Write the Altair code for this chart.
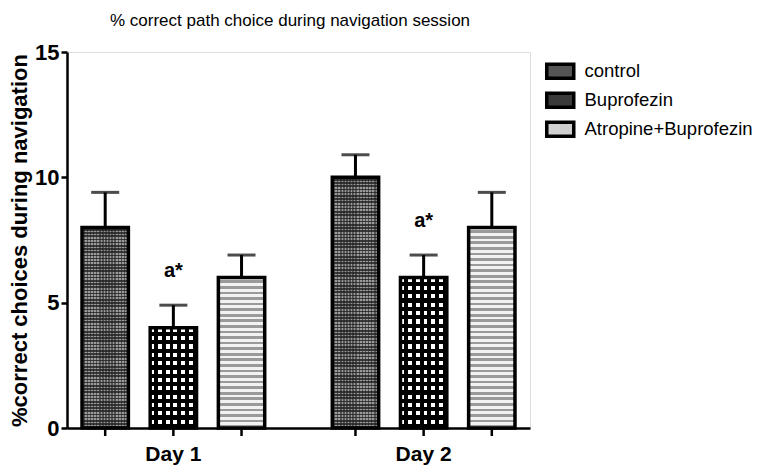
import altair as alt
import pandas as pd

days = ["Day 1", "Day 2"]
groups = ["control", "Buprofezin", "Atropine+Buprofezin"]
mean_day1 = [8, 4, 6]
err_day1 = [1.4, 0.9, 0.9]
mean_day2 = [10, 6, 8]
err_day2 = [0.9, 0.9, 1.4]
annot_day1 = ["", "a*", ""]
annot_day2 = ["", "a*", ""]

rows = []
for d, means, errs, anns in [("Day 1", mean_day1, err_day1, annot_day1),
                             ("Day 2", mean_day2, err_day2, annot_day2)]:
    for g, m, e, a in zip(groups, means, errs, anns):
        rows.append({"day": d, "group": g, "mean": m, "top": m + e, "ann": a})
df = pd.DataFrame(rows)

W, H = 463, 376
PX_PER_UNIT = H / 15.0
FONT = "Liberation Sans"
Y_SCALE = alt.Scale(domain=[0, 15], nice=False, zero=True)


def stripes(n, c1, c2, vertical_dir):
    stops = []
    for i in range(n):
        a, b, c = i / n, (i + 0.5) / n, (i + 1) / n
        stops += [{"offset": a, "color": c1}, {"offset": b, "color": c1},
                  {"offset": b, "color": c2}, {"offset": c, "color": c2}]
    g = {"gradient": "linear", "stops": stops}
    if vertical_dir:
        g.update({"x1": 0, "x2": 0, "y1": 0, "y2": 1})
    else:
        g.update({"x1": 0, "x2": 1, "y1": 0, "y2": 1e-6})
    return g


x_enc = alt.X("day:N", sort=days,
              scale=alt.Scale(paddingInner=0.27, paddingOuter=0.06),
              axis=alt.Axis(title=None, ticks=False, labelAngle=0, labelFontSize=21,
                            labelFontWeight="bold", labelColor="black", labelPadding=15,
                            domainColor="black", domainWidth=2.5, labelFont=FONT))
xo_enc = alt.XOffset("group:N", sort=groups,
                     scale=alt.Scale(paddingInner=0.32, paddingOuter=0))
y_enc = alt.Y("mean:Q", scale=Y_SCALE,
              axis=alt.Axis(values=[0, 5, 10, 15], grid=False,
                            title="%correct choices during navigation",
                            titleFontSize=22, titleFontWeight="bold", titleColor="black",
                            titleFont=FONT, titlePadding=3,
                            labelFontSize=22, labelFontWeight="bold", labelColor="black",
                            labelFont=FONT, labelPadding=2,
                            domainColor="black", domainWidth=2.5,
                            tickColor="black", tickWidth=2.5, tickSize=6))
y_top = alt.Y("top:Q", scale=Y_SCALE)

base = alt.Chart(df).encode(x=x_enc, xOffset=xo_enc, y=y_enc)

color = alt.Color("group:N", sort=groups,
                  scale=alt.Scale(domain=groups, range=["#555555", "#3a3a3a", "#d0d0d0"]),
                  legend=alt.Legend(title=None, orient="none", legendX=484, legendY=10,
                                    labelFontSize=18.5, labelFont=FONT, labelColor="black",
                                    labelLimit=400,
                                    symbolType="M-1.93,-1H1.93V1H-1.93Z", symbolSize=196,
                                    symbolStrokeColor="black", symbolStrokeWidth=3.5,
                                    symbolOpacity=1, rowPadding=0, labelOffset=15))

layers = [base.mark_bar().encode(fill=color)]

for d, means in [("Day 1", mean_day1), ("Day 2", mean_day2)]:
    for g, m in zip(groups, means):
        hpx = m * PX_PER_UNIT
        sub = base.transform_filter(
            (alt.datum.day == d) & (alt.datum.group == g))
        if g == "control":
            n = max(1, round(hpx / 3.2))
            layers.append(sub.mark_bar(fill=stripes(n, "#9a9a9a", "#3a3a3a", True)))
            layers.append(sub.mark_bar(fill=stripes(15, "rgba(0,0,0,0)", "rgba(30,30,30,0.55)", False)))
        elif g == "Buprofezin":
            n = max(1, round(hpx / 8.5))
            layers.append(sub.mark_bar(fill=stripes(n, "#ffffff", "#000000", True)))
            layers.append(sub.mark_bar(fill=stripes(6, "rgba(0,0,0,0)", "rgba(0,0,0,1)", False)))
        else:
            n = max(1, round(hpx / 5.5))
            layers.append(sub.mark_bar(fill=stripes(n, "#f2f2f2", "#9a9a9a", True)))

layers.append(base.mark_bar(fillOpacity=0, stroke="black", strokeWidth=3.5))
layers.append(base.mark_rule(color="black", strokeWidth=3).encode(y2="top:Q"))
layers.append(base.mark_tick(color="black", thickness=3, size=28).encode(y=y_top))
layers.append(base.mark_rule(color="black", strokeWidth=2.5).encode(
    y=alt.value(H), y2=alt.value(H + 8)))
layers.append(base.mark_text(fontSize=20, fontWeight="bold", font=FONT, color="black",
                             baseline="middle", dy=-34).encode(y=y_top, text="ann:N"))

chart = alt.layer(*layers).properties(
    width=W, height=H,
    title=alt.TitleParams("% correct path choice during navigation session",
                          fontSize=17, fontWeight="normal", font=FONT, color="black",
                          anchor="start", frame="group", dx=43, offset=11),
    autosize=alt.AutoSizeParams(type="none"),
    padding={"left": 59, "top": 44, "right": 226, "bottom": 39},
).configure_view(stroke=None).configure(font=FONT, background="white")

chart.save("out.html", embed_options={"renderer": "svg", "actions": False})
